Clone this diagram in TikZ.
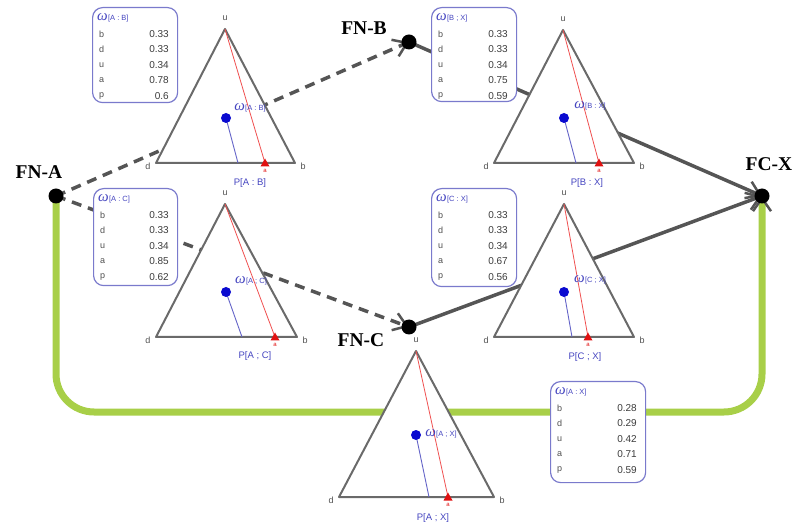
\documentclass[tikz,border=0pt]{standalone}
\usepackage{fontspec}
\setmainfont{Liberation Sans}
\newfontfamily\nodefont{Liberation Serif}
\usetikzlibrary{arrows.meta}
\pgfdeclarelayer{bg}
\pgfsetlayers{bg,main}
\definecolor{edgegray}{HTML}{555555}
\definecolor{trigray}{HTML}{6A6A6A}
\definecolor{boxblue}{HTML}{7A7ACC}
\definecolor{omblue}{HTML}{4545C0}
\definecolor{dotblue}{HTML}{0A0AD0}
\definecolor{lineblue}{HTML}{6464C8}
\definecolor{redl}{HTML}{F05050}
\definecolor{redm}{HTML}{E01010}
\definecolor{lgreen}{HTML}{A8CF48}
\definecolor{txtgray}{HTML}{505050}
\definecolor{valgray}{HTML}{3C3C3C}
\newcommand\omlab[1]{{\color{omblue}{\nodefont\itshape\fontsize{15}{15}\selectfont ω}\kern0.3pt{\fontsize{7.5}{8}\selectfont[#1]}}}
\tikzset{
  fnode/.style={circle, fill=black, inner sep=0pt, minimum size=15pt},
  fnlabel/.style={font=\nodefont\bfseries\fontsize{19.5}{20}\selectfont, inner sep=0pt},
  tip/.style={-{Straight Barb[length=13pt,width=18pt,line width=2.5pt,color=edgegray]}},
  conn/.style={draw=edgegray, line width=3.5pt, tip},
  dashconn/.style={conn, dash pattern=on 10pt off 7pt},
  greenconn/.style={draw=lgreen, line width=7pt, rounded corners=38pt, tip},
  triedge/.style={fill=white, draw=trigray, line width=2pt, line join=round},
  vlab/.style={font=\fontsize{9}{9}\selectfont, text=txtgray, inner sep=0pt},
  plab/.style={font=\fontsize{9.5}{10}\selectfont, text=omblue, inner sep=0pt},
  alab/.style={font=\fontsize{6}{6}\selectfont, text=redm, inner sep=0pt},
  oplab/.style={inner sep=0pt},
  boxnode/.style={draw=boxblue, fill=white, line width=1.2pt, rounded corners=10pt, anchor=north west, inner sep=0pt},
  rowlab/.style={font=\fontsize{9}{9}\selectfont, text=txtgray, anchor=west, inner sep=0pt},
  rowval/.style={font=\fontsize{10}{10}\selectfont, text=valgray, anchor=east, inner sep=0pt},
}
\begin{document}
\begin{tikzpicture}[x=1pt,y=-1pt]
\useasboundingbox (0,0) rectangle (795,526);
% triangles
\foreach \n/\lx/\by/\rx/\ux/\uy/\ax/\dx/\dy/\fx/\wx/\wy/\px/\py/\sub in {
  1/156/163/295/225/29/265/226/118/238/250/108/250/183/A : B,
  2/494/163/634/563/30/599/564/118/576/590/106/587/183/B : X,
  3/156/337/297/225/204/275/226/292/242/251/281/255/356/A ; C,
  4/494/337/634/564/204/588/564/292/572/590/280/585/357/C ; X,
  5/339/497/494/416/351/448/416/435/429/441/434/433/518/A ; X}{
  \filldraw[triedge] (\lx,\by) -- (\rx,\by) -- (\ux,\uy) -- cycle;
  \draw[redl, line width=0.8pt] (\ux,\uy) -- (\ax,\by);
  \draw[lineblue, line width=0.9pt] (\dx,\dy) -- (\fx,\by);
  \fill[dotblue] (\dx,\dy) circle (5pt);
  \fill[redm] (\ax-4.5,\by+3.5) -- (\ax+4.5,\by+3.5) -- (\ax,\by-4.5) -- cycle;
  \node[vlab] (u\n) at (\ux,\uy-11) {u};
  \node[vlab] (d\n) at (\lx-8,\by+3) {d};
  \node[vlab] (b\n) at (\rx+8,\by+3) {b};
  \node[alab] (a\n) at (\ax,\by+8) {a};
  \node[oplab] (w\n) at (\wx,\wy) {\omlab{\sub}};
  \node[plab] (p\n) at (\px,\py) {P[\sub]};
}
% boxes
\foreach \n/\x/\y/\w/\h/\sub/\vb/\vd/\vu/\va/\vp in {
  1/92/7/85/95/A : B/0.33/0.33/0.34/0.78/0.6,
  2/431/7/85/94/B ; X/0.33/0.33/0.34/0.75/0.59,
  3/93/188/84/97/A : C/0.33/0.33/0.34/0.85/0.62,
  4/431/188/85/98/C : X/0.33/0.33/0.34/0.67/0.56,
  5/550/381/95/101/A : X/0.28/0.29/0.42/0.71/0.59}{
  \node[boxnode, minimum width=\w pt, minimum height=\h pt] (box\n) at (\x,\y) {};
  \node[oplab, anchor=west] (bt\n) at (\x+5,\y+11) {\omlab{\sub}};
  \foreach \k/\l/\v in {0/b/\vb,1/d/\vd,2/u/\vu,3/a/\va,4/p/\vp}{
    \node[rowlab] (bl\n\k) at (\x+7,\y+27+15.5*\k) {\l};
    \node[rowval] (bv\n\k) at (\x+\w-8,\y+27+15.5*\k) {\v};
  }
}
% fusion nodes
\node[fnode] (A) at (56,196) {};
\node[fnode] (B) at (409,42) {};
\node[fnode] (C) at (409,327) {};
\node[fnode] (X) at (762,196) {};
\node[fnlabel] (LA) at (39,172) {FN-A};
\node[fnlabel] (LB) at (364,28) {FN-B};
\node[fnlabel] (LC) at (361,340) {FN-C};
\node[fnlabel] (LX) at (769,164) {FC-X};
% connectors
\begin{pgfonlayer}{bg}
\draw[greenconn] (A.center) -- (A.center |- 0,412) -- (X.center |- 0,412) -- (X.center);
\draw[dashconn] (A.center) -- (B.center);
\draw[dashconn] (A.center) -- (C.center);
\draw[conn] (B.center) -- (X.center);
\draw[conn] (C.center) -- (X.center);
\end{pgfonlayer}
\end{tikzpicture}
\end{document}
